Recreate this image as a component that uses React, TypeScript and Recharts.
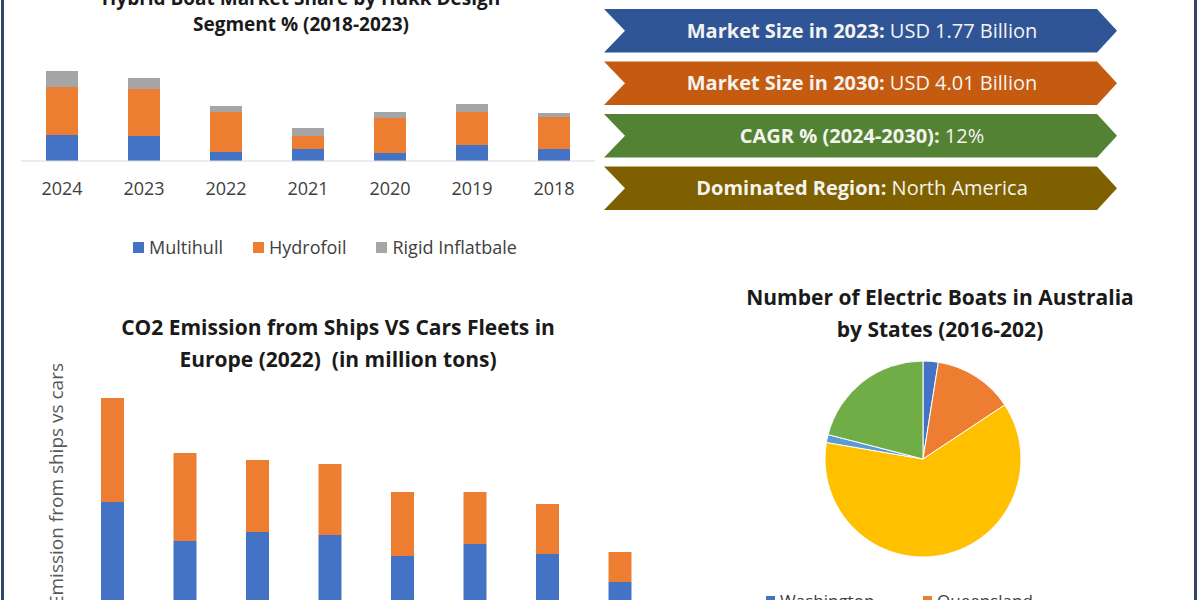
import React from 'react';
import { BarChart, Bar, XAxis, YAxis, Legend, PieChart, Pie, Cell } from 'recharts';

// Hybrid boat market share by hull design (stacked, % share)
const hullYears = ['2024', '2023', '2022', '2021', '2020', '2019', '2018'];
const multihull = [26, 25, 9, 12, 8, 16, 12];
const hydrofoil = [48, 47, 40, 13, 35, 33, 32];
const rigidInflatable = [16, 11, 6, 8, 6, 8, 4];
const hullNames = ['Multihull', 'Hydrofoil', 'Rigid Inflatbale'];
const hullColors = ['#4472c4', '#ed7d31', '#a5a5a5'];

// CO2 emission, ships vs cars (million tons)
const emissionGroups = ['1', '2', '3', '4', '5', '6', '7', '8'];
const shipEmission = [118, 79, 88, 85, 64, 76, 66, 38];
const carEmission = [104, 88, 72, 71, 64, 52, 50, 30];

// Electric boats in Australia by state (share %)
const stateNames = ['Washington', 'Queensland', 'Victoria', 'Tasmania', 'New South Wales'];
const stateBoats = [2.5, 13.2, 62, 1.3, 21];
const stateColors = ['#4472c4', '#ed7d31', '#ffc000', '#5b9bd5', '#70ad47'];

// Key facts banners
const factLabels = ['Market Size in 2023:', 'Market Size in 2030:', 'CAGR % (2024-2030):', 'Dominated Region:'];
const factValues = ['USD 1.77 Billion', 'USD 4.01 Billion', '12%', 'North America'];
const factColors = ['#2f5597', '#c55a11', '#548235', '#7f6000'];

const hullData = hullYears.map((year, i) => ({
  year,
  multihull: multihull[i],
  hydrofoil: hydrofoil[i],
  rigid: rigidInflatable[i],
}));

const emissionData = emissionGroups.map((group, i) => ({
  group,
  ships: shipEmission[i],
  cars: carEmission[i],
}));

const stateData = stateNames.map((state, i) => ({ state, boats: stateBoats[i] }));

const font = '"Open Sans", sans-serif';

const HullLegend = () => (
  <div style={{ display: 'flex', justifyContent: 'center', gap: 30, fontSize: 18, color: '#404040', fontFamily: font }}>
    {hullNames.map((name, i) => (
      <span key={name} style={{ display: 'flex', alignItems: 'center' }}>
        <span style={{ width: 11, height: 11, background: hullColors[i], marginRight: 5 }} />
        {name}
      </span>
    ))}
  </div>
);

const StateLegend = () => (
  <div style={{ display: 'grid', gridTemplateColumns: '157px 157px', rowGap: 4, fontSize: 17, color: '#404040', fontFamily: font }}>
    {stateNames.map((name, i) => (
      <span key={name} style={{ display: 'flex', alignItems: 'center', height: 20 }}>
        <span style={{ width: 9, height: 9, background: stateColors[i], marginRight: 5 }} />
        {name}
      </span>
    ))}
  </div>
);

const Banner = ({ i }: { i: number }) => {
  const top = 9 + i * 52.5;
  const bottom = top + 43.5;
  const mid = (top + bottom) / 2;
  const pts = `604,${top} 1097,${top} 1117,${mid} 1097,${bottom} 604,${bottom} 625,${mid}`;
  return (
    <g>
      <polygon points={pts} fill={factColors[i]} />
      <text x={862} y={mid + 7} textAnchor="middle" fontSize={20} fill="#f4f4ef" fontFamily={font}>
        <tspan fontWeight="bold">{factLabels[i]}</tspan>
        <tspan> {factValues[i]}</tspan>
      </text>
    </g>
  );
};

const App: React.FC = () => {
  return (
    <div style={{ position: 'fixed', left: 0, top: 0, width: 1200, height: 600, overflow: 'hidden', background: '#fff', fontFamily: font }}>
      <div style={{ position: 'absolute', left: 0, top: 0 }}>
        <BarChart width={620} height={270} data={hullData} margin={{ top: 61, right: 25, left: 21, bottom: 79 }} barSize={32}>
          <XAxis dataKey="year" axisLine={{ stroke: '#d9d9d9' }} tickLine={false} tickMargin={15} tick={{ fontSize: 18, fill: '#404040', fontFamily: font }} />
          <YAxis hide domain={[0, 100]} />
          <Bar dataKey="multihull" stackId="h" fill={hullColors[0]} isAnimationActive={false} />
          <Bar dataKey="hydrofoil" stackId="h" fill={hullColors[1]} isAnimationActive={false} />
          <Bar dataKey="rigid" stackId="h" fill={hullColors[2]} isAnimationActive={false} />
          <Legend content={HullLegend} layout="horizontal" verticalAlign="middle" wrapperStyle={{ top: 235, left: 15, width: 620 }} />
        </BarChart>
      </div>

      <div style={{ position: 'absolute', left: 0, top: 370 }}>
        <BarChart width={680} height={260} data={emissionData} margin={{ top: 10, right: 24, left: 76, bottom: 10 }} barSize={23}>
          <XAxis dataKey="group" hide />
          <YAxis hide domain={[0, 240]} />
          <Bar dataKey="ships" stackId="e" fill="#4472c4" isAnimationActive={false} />
          <Bar dataKey="cars" stackId="e" fill="#ed7d31" isAnimationActive={false} />
        </BarChart>
      </div>

      <div style={{ position: 'absolute', left: 740, top: 340 }}>
        <PieChart width={380} height={300}>
          <Pie data={stateData} dataKey="boats" nameKey="state" cx={178} cy={114} outerRadius={98}
            startAngle={90} endAngle={-270} stroke="#fff" strokeWidth={1} isAnimationActive={false}>
            {stateData.map((d, i) => (
              <Cell key={d.state} fill={stateColors[i]} />
            ))}
          </Pie>
          <Legend content={StateLegend} layout="horizontal" verticalAlign="middle" wrapperStyle={{ top: 250, left: 26, width: 340 }} />
        </PieChart>
      </div>

      <svg width={1200} height={600} style={{ position: 'absolute', left: 0, top: 0, pointerEvents: 'none' }}>
        <rect x={1} y={0} width={3} height={600} fill="#34456a" />
        <rect x={1194} y={0} width={3} height={600} fill="#34456a" />

        <g fontFamily={font} fontWeight="bold" fill="#1a1a1a" textAnchor="middle">
          <text x={301} y={5} fontSize={19}>Hybrid Boat Market Share by Hukk Design</text>
          <text x={301} y={31} fontSize={19}>Segment % (2018-2023)</text>
          <text x={338} y={335} fontSize={21}>CO2 Emission from Ships VS Cars Fleets in</text>
          <text x={338} y={367} fontSize={21}>{'Europe (2022)\u00a0 (in million tons)'}</text>
          <text x={940} y={305} fontSize={21}>Number of Electric Boats in Australia</text>
          <text x={940} y={337} fontSize={21}>by States (2016-202)</text>
        </g>

        <text x={63} y={363} textAnchor="end" fontSize={19} fill="#595959" fontFamily={font} transform="rotate(-90, 63, 363)">
          CO2 Emission from ships vs cars
        </text>

        {factLabels.map((_, i) => (
          <Banner key={i} i={i} />
        ))}
      </svg>
    </div>
  );
};

export default App;
